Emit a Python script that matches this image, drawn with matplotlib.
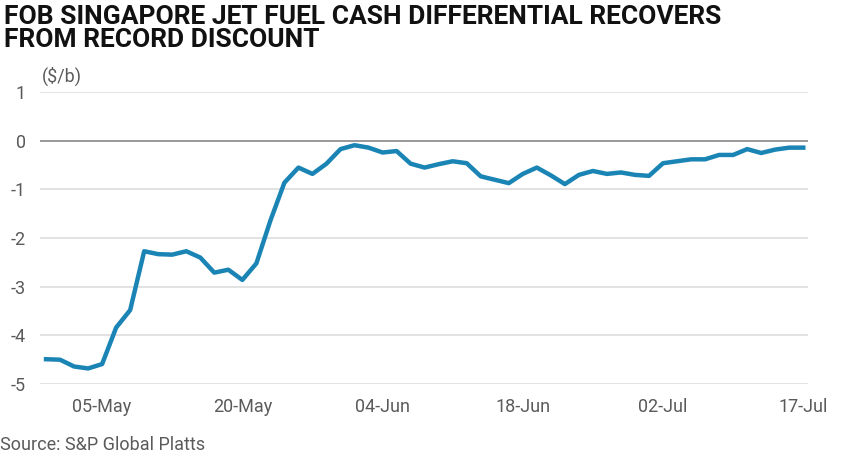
import matplotlib.pyplot as plt

values = [-4.49, -4.50, -4.64, -4.68, -4.59, -3.84, -3.48, -2.27, -2.33, -2.34,
          -2.27, -2.40, -2.71, -2.65, -2.86, -2.52, -1.64, -0.86, -0.55, -0.68,
          -0.47, -0.17, -0.09, -0.14, -0.24, -0.21, -0.47, -0.55, -0.48, -0.42,
          -0.46, -0.73, -0.80, -0.87, -0.68, -0.55, -0.71, -0.89, -0.70, -0.62,
          -0.68, -0.65, -0.70, -0.72, -0.46, -0.42, -0.38, -0.38, -0.29, -0.29,
          -0.17, -0.25, -0.18, -0.14, -0.14]
tick_pos = [4, 14, 24, 34, 44, 54]
tick_labels = ["05-May", "20-May", "04-Jun", "18-Jun", "02-Jul", "17-Jul"]
y_ticks = [1, 0, -1, -2, -3, -4, -5]

plt.rcParams["font.family"] = ["Roboto", "DejaVu Sans"]
fig = plt.figure(figsize=(8.42, 4.61), dpi=100)
ax = fig.add_axes([0.0475, 0.167, 0.9125, 0.633])

ax.plot(range(len(values)), values, color="#1a84b5", lw=3.2, solid_joinstyle="round")
ax.set_xlim(-0.43, 54.36)
ax.set_ylim(-5, 1)
ax.set_yticks(y_ticks)
ax.set_yticklabels([str(v) for v in y_ticks])
ax.set_xticks(tick_pos)
ax.set_xticklabels(tick_labels)
for v in y_ticks:
    ax.axhline(v, color="#888888" if v == 0 else "#dddddd", lw=1.2, zorder=0)
for s in ax.spines.values():
    s.set_visible(False)
ax.tick_params(length=0, labelsize=13, colors="#5a5a5a")
ax.tick_params(axis="x", pad=10)
ax.tick_params(axis="y", pad=10)

fig.text(0.005, 0.99, "FOB SINGAPORE JET FUEL CASH DIFFERENTIAL RECOVERS\nFROM RECORD DISCOUNT",
         fontsize=19, fontweight="bold", va="top", ha="left", linespacing=0.95,
         color="#111111")
fig.text(0.05, 0.835, "($/b)", fontsize=13, color="#5a5a5a", va="center")
fig.text(0.0, 0.035, "Source: S&P Global Platts", fontsize=13, color="#5a5a5a", va="center")

fig.savefig("out.png")
